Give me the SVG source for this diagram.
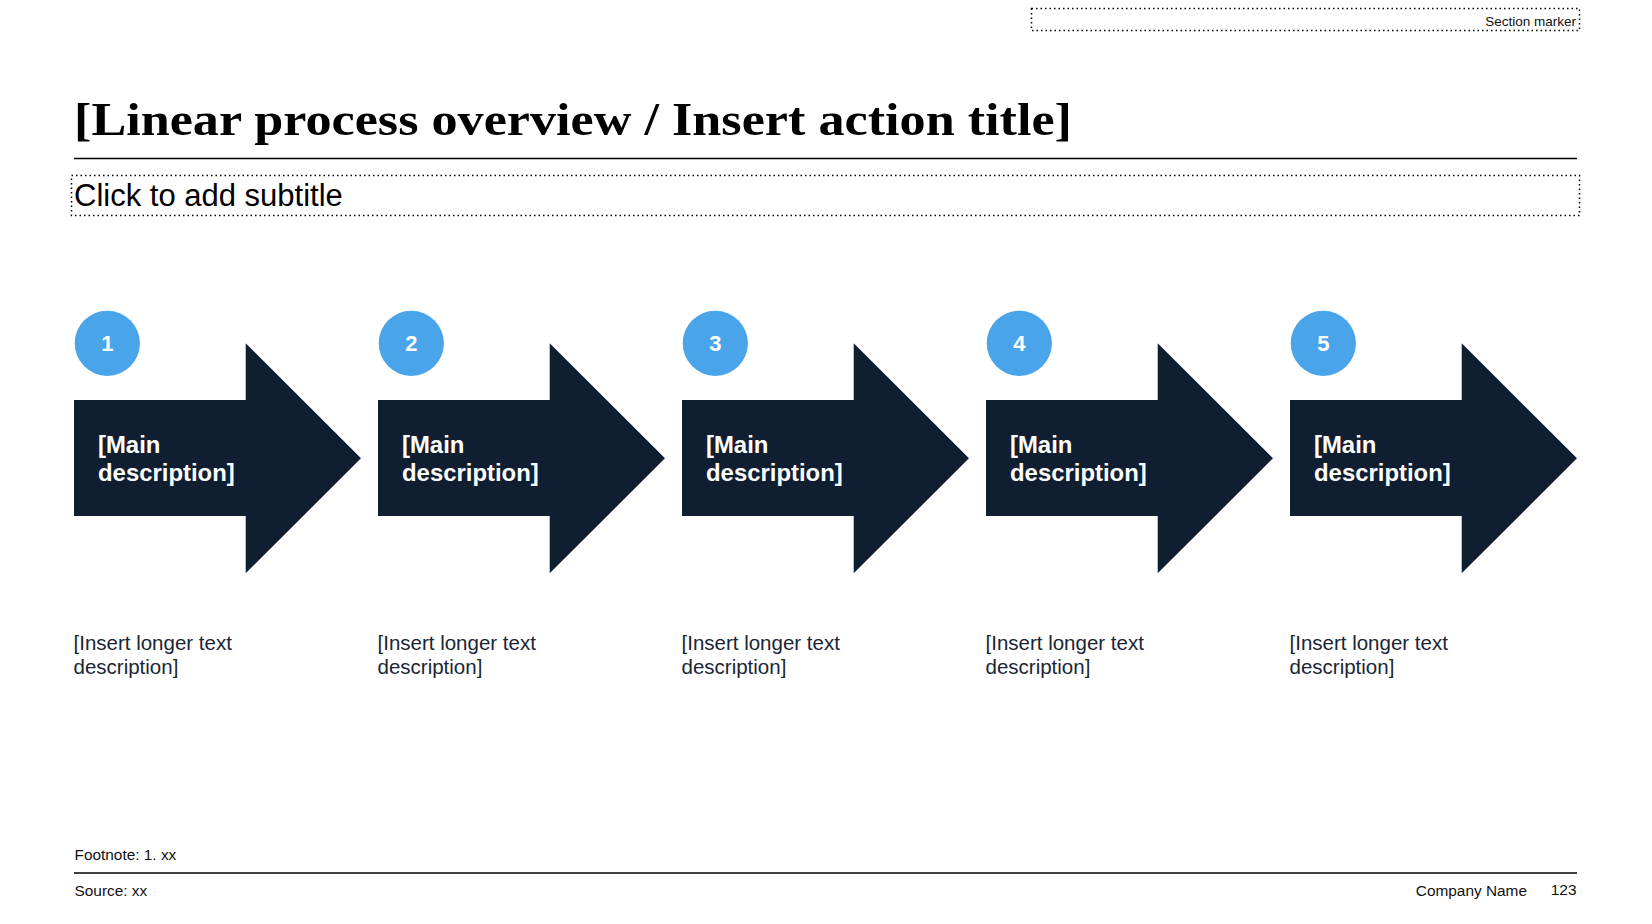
<svg xmlns="http://www.w3.org/2000/svg" width="1652" height="924" viewBox="0 0 1652 924">
<style>
.sans{font-family:"Liberation Sans",Arial,sans-serif}
.dotbox{fill:none;stroke:#000;stroke-width:1.5;stroke-dasharray:1.5 3}
.arrow{fill:#0f1f31}
.circ{fill:#4aa4ea}
.num{font-family:"Liberation Sans",Arial,sans-serif;font-weight:bold;font-size:22px;fill:#fff;text-anchor:middle}
.main{font-family:"Liberation Sans",Arial,sans-serif;font-weight:bold;font-size:23.9px;fill:#fff}
.desc{font-family:"Liberation Sans",Arial,sans-serif;font-size:20.5px;fill:#1b2535}
.foot{font-family:"Liberation Sans",Arial,sans-serif;font-size:15.4px;fill:#111}
</style>
<defs>
<g id="step">
<path class="arrow" d="M74,400 H245.7 V343.3 L361,458.3 L245.7,573.3 V516 H74 Z"/>
<circle class="circ" cx="107.3" cy="343.3" r="32.6"/>
</g>
</defs>
<rect width="1652" height="924" fill="#fff"/>
<g id="section-marker">
<rect class="dotbox" x="1031.5" y="8.5" width="548" height="22"/>
<text class="sans" x="1576" y="26" font-size="13.5" text-anchor="end" fill="#111">Section marker</text>
</g>
<g id="title">
<text x="74" y="135" font-family="'Liberation Serif','Times New Roman',serif" font-weight="bold" font-size="47" textLength="998" lengthAdjust="spacingAndGlyphs" fill="#000">[Linear process overview / Insert action title]</text>
<line x1="74" y1="158.5" x2="1577" y2="158.5" stroke="#000" stroke-width="1.3"/>
</g>
<g id="subtitle">
<rect class="dotbox" x="71.5" y="175.5" width="1508" height="40"/>
<text class="sans" x="74" y="206" font-size="31" fill="#000">Click to add subtitle</text>
</g>
<g id="connectors"></g>
<g id="step1">
<use href="#step"/>
<text class="num" x="107.3" y="351">1</text>
<text class="main" x="98" y="453">[Main</text>
<text class="main" x="98" y="481">description]</text>
<text class="desc" x="73.5" y="649.5">[Insert longer text</text>
<text class="desc" x="73.5" y="673.5">description]</text>
</g>
<g id="step2" transform="translate(304,0)">
<use href="#step"/>
<text class="num" x="107.3" y="351">2</text>
<text class="main" x="98" y="453">[Main</text>
<text class="main" x="98" y="481">description]</text>
<text class="desc" x="73.5" y="649.5">[Insert longer text</text>
<text class="desc" x="73.5" y="673.5">description]</text>
</g>
<g id="step3" transform="translate(608,0)">
<use href="#step"/>
<text class="num" x="107.3" y="351">3</text>
<text class="main" x="98" y="453">[Main</text>
<text class="main" x="98" y="481">description]</text>
<text class="desc" x="73.5" y="649.5">[Insert longer text</text>
<text class="desc" x="73.5" y="673.5">description]</text>
</g>
<g id="step4" transform="translate(912,0)">
<use href="#step"/>
<text class="num" x="107.3" y="351">4</text>
<text class="main" x="98" y="453">[Main</text>
<text class="main" x="98" y="481">description]</text>
<text class="desc" x="73.5" y="649.5">[Insert longer text</text>
<text class="desc" x="73.5" y="673.5">description]</text>
</g>
<g id="step5" transform="translate(1216,0)">
<use href="#step"/>
<text class="num" x="107.3" y="351">5</text>
<text class="main" x="98" y="453">[Main</text>
<text class="main" x="98" y="481">description]</text>
<text class="desc" x="73.5" y="649.5">[Insert longer text</text>
<text class="desc" x="73.5" y="673.5">description]</text>
</g>
<g id="footer">
<text class="foot" x="74.5" y="860">Footnote: 1. xx</text>
<line x1="74" y1="873" x2="1577" y2="873" stroke="#000" stroke-width="1.3"/>
<text class="foot" x="74.5" y="896">Source: xx</text>
<text class="foot" x="1527" y="896" text-anchor="end">Company Name</text>
<text class="foot" x="1576.5" y="895" text-anchor="end">123</text>
</g>
</svg>
